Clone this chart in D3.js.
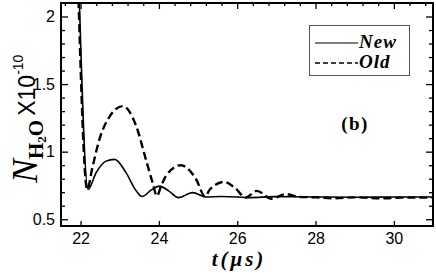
<!DOCTYPE html>
<html>
<head>
<meta charset="utf-8">
<script src="https://cdn.jsdelivr.net/npm/d3@7"></script>
<style>
  body { margin: 0; background: #fff; }
  svg { display: block; }
  .tick text { font-family: "Liberation Sans", Arial, sans-serif; font-size: 16px; fill: #000; }
  .tick line { stroke: #000; stroke-width: 1.3; }
  .domain { display: none; }
</style>
</head>
<body>
<div id="chart"></div>
<script>
// time axis (microseconds) and water density (x 1e-10)
const tNew = [21.95, 22.19, 22.4, 22.65, 22.87, 23.16, 23.42, 23.57, 23.8, 24.01, 24.25, 24.5, 24.86, 25.2, 25.6, 26.0, 26.3, 27.0, 28.0, 29.0, 30.0, 31.0];
const nNew = [2.3, 0.72, 0.846, 0.93, 0.943, 0.845, 0.71, 0.668, 0.715, 0.745, 0.71, 0.66, 0.697, 0.665, 0.668, 0.665, 0.66, 0.667, 0.665, 0.663, 0.665, 0.665];

const tOld = [21.93, 22.17, 22.3, 22.48, 22.74, 23.08, 23.42, 23.67, 23.84, 23.95, 24.05, 24.18, 24.56, 24.95, 25.18, 25.3, 25.67, 25.95, 26.22, 26.5, 26.88, 27.24, 27.6, 28.0, 28.5, 29.0, 29.7, 30.3, 31.0];
const nOld = [2.3, 0.72, 0.88, 1.09, 1.26, 1.337, 1.19, 0.94, 0.77, 0.672, 0.74, 0.82, 0.90, 0.796, 0.668, 0.72, 0.776, 0.73, 0.66, 0.71, 0.652, 0.686, 0.665, 0.662, 0.655, 0.662, 0.655, 0.66, 0.66];

const xMajor = [22, 24, 26, 28, 30];
const xMinor = [21.6, 22.4, 22.8, 23.2, 23.6, 24.4, 24.8, 25.2, 25.6, 26.4, 26.8, 27.2, 27.6, 28.4, 28.8, 29.2, 29.6, 30.4, 30.8];
const yMajor = [0.5, 1, 1.5, 2];
const yMinor = [0.6, 0.7, 0.8, 0.9, 1.1, 1.2, 1.3, 1.4, 1.6, 1.7, 1.8, 1.9];

const seriesNames = ['New', 'Old'];

const width = 436, height = 273;
const box = { left: 61, right: 433, top: 3, bottom: 226 };

const svg = d3.select('#chart').append('svg')
    .attr('width', width)
    .attr('height', height);

const x = d3.scaleLinear().domain([21.5, 31]).range([box.left, box.right]);
const y = d3.scaleLinear().domain([0.45, 2.1]).range([box.bottom, box.top]);

svg.append('clipPath').attr('id', 'plotclip')
  .append('rect')
    .attr('x', box.left).attr('y', box.top)
    .attr('width', box.right - box.left).attr('height', box.bottom - box.top);

// ---- axes (ticks point inward) ----
svg.append('g')
    .attr('transform', 'translate(0,' + box.bottom + ')')
    .call(d3.axisBottom(x).tickValues(xMajor).tickSize(-5).tickPadding(7).tickFormat(d3.format('d')));

svg.append('g')
    .attr('transform', 'translate(0,' + box.top + ')')
    .call(d3.axisTop(x).tickValues(xMajor).tickSize(-6).tickFormat(''));
svg.append('g')
    .attr('transform', 'translate(0,' + box.top + ')')
    .call(d3.axisTop(x).tickValues(xMinor).tickSize(-3).tickFormat(''));

svg.append('g')
    .attr('transform', 'translate(' + box.left + ',0)')
    .call(d3.axisLeft(y).tickValues(yMajor).tickSize(-7).tickPadding(6).tickFormat(d3.format('')));
svg.append('g')
    .attr('transform', 'translate(' + box.left + ',0)')
    .call(d3.axisLeft(y).tickValues(yMinor).tickSize(-4).tickFormat(''));

svg.append('g')
    .attr('transform', 'translate(' + box.right + ',0)')
    .call(d3.axisRight(y).tickValues(yMajor).tickSize(-7).tickFormat(''));
svg.append('g')
    .attr('transform', 'translate(' + box.right + ',0)')
    .call(d3.axisRight(y).tickValues(yMinor).tickSize(-4).tickFormat(''));

// ---- curves ----
const line = d3.line()
    .x(d => x(d[0]))
    .y(d => y(d[1]))
    .curve(d3.curveMonotoneX);

const plot = svg.append('g').attr('clip-path', 'url(#plotclip)');

plot.append('path')
    .datum(d3.zip(tOld, nOld))
    .attr('d', line)
    .attr('fill', 'none')
    .attr('stroke', '#000')
    .attr('stroke-width', 2.4)
    .attr('stroke-dasharray', '8,4');

plot.append('path')
    .datum(d3.zip(tNew, nNew))
    .attr('d', line)
    .attr('fill', 'none')
    .attr('stroke', '#000')
    .attr('stroke-width', 1.6);

// frame
svg.append('rect')
    .attr('x', box.left).attr('y', box.top)
    .attr('width', box.right - box.left).attr('height', box.bottom - box.top)
    .attr('fill', 'none')
    .attr('stroke', '#000')
    .attr('stroke-width', 2);

// ---- legend ----
const legend = svg.append('g');
legend.append('rect')
    .attr('x', 309.5).attr('y', 25.5).attr('width', 100).attr('height', 50)
    .attr('fill', '#fff').attr('stroke', '#555').attr('stroke-width', 1);

legend.selectAll('line.key')
  .data(seriesNames)
  .join('line')
    .attr('class', 'key')
    .attr('x1', 315).attr('x2', 358)
    .attr('y1', (d, i) => 43 + i * 20).attr('y2', (d, i) => 43 + i * 20)
    .attr('stroke', '#000')
    .attr('stroke-width', (d, i) => i ? 1.6 : 1.2)
    .attr('stroke-dasharray', (d, i) => i ? '5,3' : null);

legend.selectAll('text')
  .data(seriesNames)
  .join('text')
    .attr('x', 359)
    .attr('y', (d, i) => 48 + i * 20)
    .style('font-family', '"Liberation Serif", "Times New Roman", serif')
    .style('font-style', 'italic')
    .style('font-weight', 'bold')
    .style('font-size', '19px')
    .attr('letter-spacing', 1)
    .text(d => d);

svg.append('text')
    .attr('x', 355).attr('y', 130)
    .attr('text-anchor', 'middle')
    .style('font-family', '"Liberation Serif", "Times New Roman", serif')
    .style('font-weight', 'bold')
    .style('font-size', '19px')
    .attr('letter-spacing', 1.5)
    .text('(b)');

// ---- axis titles ----
svg.append('text')
    .attr('x', 239).attr('y', 266)
    .attr('text-anchor', 'middle')
    .style('font-family', '"Liberation Serif", "Times New Roman", serif')
    .style('font-style', 'italic')
    .style('font-weight', 'bold')
    .style('font-size', '21px')
    .attr('letter-spacing', 3)
    .text('t(\u03bcs)');

const ylab = svg.append('text')
    .attr('transform', 'translate(37,183) rotate(-90)')
    .style('font-family', '"Liberation Serif", "Times New Roman", serif');
ylab.append('tspan')
    .style('font-style', 'italic')
    .style('font-size', '36px')
    .text('N');
ylab.append('tspan')
    .attr('dy', 6)
    .style('font-weight', 'bold')
    .style('font-size', '21px')
    .text('H');
ylab.append('tspan')
    .attr('dy', 3)
    .style('font-weight', 'bold')
    .style('font-size', '13px')
    .text('2');
ylab.append('tspan')
    .attr('dy', -3)
    .style('font-weight', 'bold')
    .style('font-size', '21px')
    .text('O');
ylab.append('tspan')
    .attr('dy', -8)
    .attr('dx', 4)
    .style('font-family', '"Liberation Sans", Arial, sans-serif')
    .style('font-size', '23px')
    .text('X10');
ylab.append('tspan')
    .attr('dy', -12)
    .style('font-family', '"Liberation Sans", Arial, sans-serif')
    .style('font-size', '14px')
    .text('-10');
</script>
</body>
</html>
